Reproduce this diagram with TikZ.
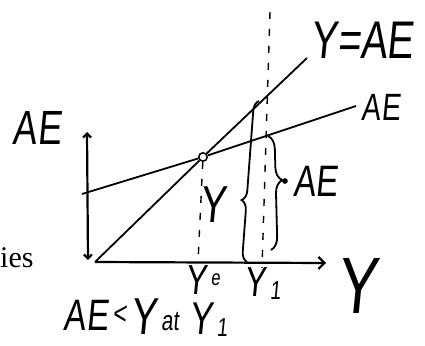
\documentclass[tikz,border=0pt]{standalone}
\usepackage{fontspec}
\newfontfamily\hand[FakeStretch=0.75,FakeSlant=0.1]{Liberation Sans}
\newfontfamily\printed{Liberation Serif}
\usetikzlibrary{arrows.meta,decorations.pathreplacing,positioning}

\begin{document}
\begin{tikzpicture}[
    x=1pt, y=-1pt,
    axis/.style={line width=2.2pt},
    curve/.style={line width=1.8pt},
    guide/.style={line width=1.4pt, dash pattern=on 7pt off 10pt},
    hbrace/.style={decorate, line width=1.8pt, decoration={brace, amplitude=#1}},
    hw/.style={font=\hand\fontsize{#1}{#1}\selectfont, inner sep=0pt},
    dot/.style={circle, fill=black, inner sep=2pt}
]
\useasboundingbox (0,0) rectangle (425,345);

% Axes
\coordinate (o) at (95,262);
\coordinate (yTop) at (87,132);
\coordinate (yBot) at (88,260);
\coordinate (xEnd) at (326,263);
\draw[axis, {Straight Barb[length=4pt]}-{Straight Barb[length=4pt]}] (yBot) -- (yTop);
\draw[axis, -{Straight Barb[length=6pt]}] (o) -- (xEnd);

% 45 degree line and AE line
\coordinate (diagEnd) at (307,58);
\coordinate (aeStart) at (82,194);
\coordinate (aeEnd) at (356,106);
\node[circle, draw, line width=1.5pt, inner sep=3pt] (eq) at (203,157) {};
\draw[curve] (o) -- (eq) -- (diagEnd);
\draw[curve] (aeStart) -- (eq) -- (aeEnd);

% Dashed guides
\coordinate (ye) at (198,262);
\coordinate (y1Top) at (270,12);
\coordinate (y1) at (262,268);
\draw[guide] (eq) -- (ye);
\draw[guide] (y1Top) -- (y1);

% Braces
\coordinate (bigLow) at (247,262);
\coordinate (bigHigh) at (259,101);
\coordinate (smallHigh) at (268,136);
\coordinate (smallLow) at (271,250);
\draw[hbrace=10pt, decoration={aspect=0.38}] (bigLow) -- (bigHigh);
\draw[hbrace=13pt, decoration={aspect=0.39}] (smallHigh) -- (smallLow);
\node[dot, label={[hw=44, xshift=5pt]right:AE}] (gap) at (285,181) {};

% Labels
\node[hw=53] (eqLabel) at (362,40) {Y=AE};
\node[hw=48] (aeAxis) at (37,128) {AE};
\node[hw=38] (aeLabel) at (381,107) {AE};
\node[hw=52] (yLabel) at (213,205) {Y};
\node[hw=80] (yAxis) at (357,286) {Y};
\node[font=\printed\fontsize{30}{30}\selectfont, inner sep=0pt, anchor=base west] (cut) at (0,267) {ies};

% Y_e and Y_1 under the axis
\node[hw=42] (yeY) at (196,280) {Y};
\node[hw=22, right=4pt of yeY] (yeSub) {e};
\node[hw=42] (y1Y) at (255,282) {Y};
\node[hw=26, right=4pt of y1Y, yshift=-9pt] (y1Sub) {1};

% AE < Y at Y_1
\node[hw=44] (noteAE) at (86,315) {AE};
\node[hw=32, right=4pt of noteAE] (noteLess) {<};
\node[hw=52, right=4pt of noteLess, yshift=-2pt] (noteY) {Y};
\node[hw=28, right=4pt of noteY, yshift=-5pt] (noteAt) {at};
\node[hw=46, right=10pt of noteAt, yshift=3pt] (noteY1) {Y};
\node[hw=26, right=4pt of noteY1, yshift=-9pt] (noteSub) {1};
\end{tikzpicture}
\end{document}
